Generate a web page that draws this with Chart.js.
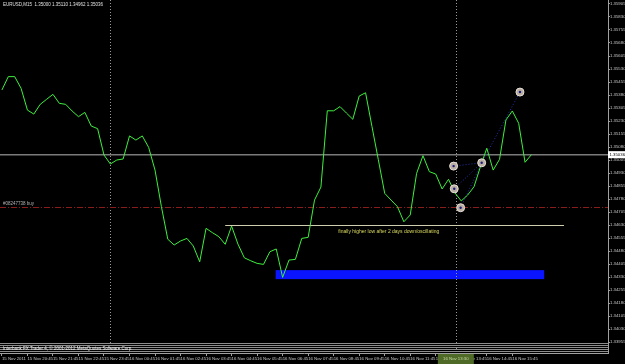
<!DOCTYPE html>
<html lang="en">
<head>
<meta charset="UTF-8">
<title>EURUSD,M15</title>
<script src="https://cdn.jsdelivr.net/npm/chart.js"></script>
<style>
    body { margin: 0; background: #000; }
    #wrap { width: 625px; height: 364px; }
</style>
</head>
<body>
<div id="wrap"><canvas id="myChart" width="625" height="364"></canvas></div>
<script>
// closes of EURUSD M15, one per bar (bar 0 = 15 Nov 19:45)
const closes = [
    1.35409, 1.35486, 1.35486, 1.35419, 1.35293, 1.35270, 1.35326, 1.35355, 1.35384, 1.35332,
    1.35326, 1.35288, 1.35255, 1.35280, 1.35201, 1.35186, 1.35034, 1.34982, 1.35005, 1.35011,
    1.35144, 1.35120, 1.35144, 1.35078, 1.34947, 1.34736, 1.34548, 1.34515, 1.34538, 1.34553,
    1.34509, 1.34418, 1.34611, 1.34586, 1.34563, 1.34519, 1.34624, 1.34520, 1.34441, 1.34424,
    1.34409, 1.34403, 1.34476, 1.34492, 1.34328, 1.34428, 1.34432, 1.34553, 1.34559, 1.34774,
    1.34849, 1.35289, 1.35289, 1.35313, 1.35276, 1.35240, 1.35374, 1.35393, 1.35199, 1.35007,
    1.34813, 1.34774, 1.34736, 1.34649, 1.34688, 1.34928, 1.35030, 1.34938, 1.34924, 1.34838,
    1.34894, 1.34816, 1.34769, 1.34803, 1.34851, 1.34966, 1.35073, 1.34947, 1.35009, 1.35236,
    1.35288, 1.35217, 1.34992, 1.35036
];

// one label every 4 bars (1 hour)
const timeLabels = [
    '15 Nov 2011', '15 Nov 20:45', '15 Nov 21:45', '15 Nov 22:45', '15 Nov 23:45',
    '16 Nov 00:45', '16 Nov 01:45', '16 Nov 02:45', '16 Nov 03:45', '16 Nov 04:45',
    '16 Nov 05:45', '16 Nov 06:45', '16 Nov 07:45', '16 Nov 08:45', '16 Nov 09:45',
    '16 Nov 10:45', '16 Nov 11:45', '16 Nov 12:45', '16 Nov 13:45', '16 Nov 14:45',
    '16 Nov 15:45'
];

const priceLabels = [
    1.35905, 1.35830, 1.35755, 1.35680, 1.35605, 1.35530, 1.35455, 1.35380, 1.35305,
    1.35230, 1.35155, 1.35080, 1.35005, 1.34930, 1.34855, 1.34780, 1.34705, 1.34630,
    1.34555, 1.34480, 1.34405, 1.34330, 1.34255, 1.34180, 1.34105, 1.34030, 1.33955
];

const header = 'EURUSD,M15  1.35000 1.35110 1.34962 1.35036';
const bidPrice = 1.35036;
const orderPrice = 1.34734;
const orderLabel = '#08247738 buy';
const supportLine = { from: 35.0, to: 88.1, price: 1.34630 };
const zoneBox = { from: 42.9, to: 85.0, top: 1.34370, bottom: 1.34318 };
const note = { x: 52.7, price: 1.34592, text: 'finally higher low after 2 days down/oscillating' };
const separators = [16.95, 71.15];
const crosshairLabel = '16 Nov 13:30';

// wave markers and the dotted links between them
const waveX = [70.8, 75.2, 70.9, 71.9, 81.2];
const waveY = [1.34970, 1.34989, 1.34839, 1.34730, 1.35397];
const waveLinks = [[3, 1], [1, 4], [0, 1], [2, 1]];

const tiny = "'Liberation Sans Narrow', 'Liberation Sans', sans-serif";

const overlay = {
    id: 'overlay',
    beforeDraw(chart) {
        const c = chart.ctx;
        c.save();
        c.fillStyle = '#000';
        c.fillRect(0, 0, chart.width, chart.height);
        c.restore();
    },
    beforeDatasetsDraw(chart) {
        const c = chart.ctx, x = chart.scales.x, y = chart.scales.y, a = chart.chartArea;
        c.save();
        // blue zone
        c.fillStyle = '#0a14ff';
        const zx1 = x.getPixelForValue(zoneBox.from), zx2 = x.getPixelForValue(zoneBox.to);
        const zy1 = y.getPixelForValue(zoneBox.top), zy2 = y.getPixelForValue(zoneBox.bottom);
        c.fillRect(zx1, zy1, zx2 - zx1, zy2 - zy1);
        // day separator / crosshair
        c.strokeStyle = '#9a9a9a';
        c.lineWidth = 1;
        c.setLineDash([1, 2]);
        separators.forEach(s => {
            const px = Math.round(x.getPixelForValue(s)) + 0.5;
            c.beginPath(); c.moveTo(px, a.top); c.lineTo(px, a.bottom); c.stroke();
        });
        // order line
        c.strokeStyle = '#8b1c1c';
        c.setLineDash([6, 2, 1, 2]);
        let py = Math.round(y.getPixelForValue(orderPrice)) + 0.5;
        c.beginPath(); c.moveTo(a.left, py); c.lineTo(a.right, py); c.stroke();
        // bid line
        c.setLineDash([]);
        c.strokeStyle = '#7a7a7a';
        c.lineWidth = 1.5;
        py = y.getPixelForValue(bidPrice);
        c.beginPath(); c.moveTo(a.left, py); c.lineTo(a.right, py); c.stroke();
        // support line
        c.strokeStyle = '#cfcfb0';
        c.lineWidth = 1;
        py = Math.round(y.getPixelForValue(supportLine.price)) + 0.5;
        c.beginPath();
        c.moveTo(x.getPixelForValue(supportLine.from), py);
        c.lineTo(x.getPixelForValue(supportLine.to), py);
        c.stroke();
        // texts
        c.font = '4.5px ' + tiny;
        c.textBaseline = 'middle';
        c.fillStyle = '#b0b0b0';
        c.fillText(orderLabel, 3, y.getPixelForValue(orderPrice) - 3);
        c.font = '5px ' + tiny;
        c.fillStyle = '#d8d860';
        c.fillText(note.text, x.getPixelForValue(note.x), y.getPixelForValue(note.price));
        c.font = '4.5px ' + tiny;
        c.fillStyle = '#e0e0e0';
        c.fillText(header, 3, 5);
        c.restore();
    },
    afterDraw(chart) {
        const c = chart.ctx, x = chart.scales.x, y = chart.scales.y, a = chart.chartArea;
        c.save();
        // wave marker centers
        c.fillStyle = '#1a1a80';
        waveX.forEach((wx, k) => {
            c.beginPath();
            c.arc(x.getPixelForValue(wx), y.getPixelForValue(waveY[k]), 1.2, 0, Math.PI * 2);
            c.fill();
        });
        // bottom stripes and copyright
        c.strokeStyle = '#8c8c8c';
        c.lineWidth = 1;
        [343.5, 345.5, 347.5, 349.5, 351.5].forEach(sy => {
            c.beginPath(); c.moveTo(a.left, sy); c.lineTo(a.right, sy); c.stroke();
        });
        c.font = '4.5px ' + tiny;
        c.textBaseline = 'middle';
        c.fillStyle = '#f0f0f0';
        c.fillText('Interbank FX Trader 4, © 2001-2012 MetaQuotes Software Corp.', 3, 349);
        // current price box
        const by = y.getPixelForValue(bidPrice);
        c.fillStyle = '#ffffff';
        c.fillRect(a.right, by - 3.5, 17, 7);
        c.fillStyle = '#000';
        c.font = '4.3px ' + tiny;
        c.fillText(bidPrice.toFixed(5), a.right + 1.5, by);
        // crosshair time box
        const cx = x.getPixelForValue(separators[1]);
        c.fillStyle = '#4f6a26';
        c.fillRect(cx - 18, a.bottom + 1, 36, 10);
        c.fillStyle = '#c8d8a8';
        c.textAlign = 'center';
        c.fillText(crosshairLabel, cx, a.bottom + 6);
        c.restore();
    }
};

const ctx = document.getElementById('myChart').getContext('2d');
const myChart = new Chart(ctx, {
    type: 'line',
    data: {
        datasets: [{
            label: 'EURUSD',
            data: closes.map((v, i) => ({ x: i, y: v })),
            borderColor: '#3cf03c',
            borderWidth: 1,
            pointRadius: 0,
            tension: 0,
            order: 1
        },
        ...waveLinks.map(([p, q]) => ({
            type: 'scatter',
            data: [{ x: waveX[p], y: waveY[p] }, { x: waveX[q], y: waveY[q] }],
            showLine: true,
            borderColor: '#2830b0',
            borderWidth: 1,
            borderDash: [1, 2],
            pointRadius: 0,
            order: 2
        })),
        {
            type: 'scatter',
            data: waveX.map((wx, k) => ({ x: wx, y: waveY[k] })),
            pointRadius: 4,
            backgroundColor: '#b9aea2',
            borderColor: '#e6ded6',
            borderWidth: 1,
            order: 0
        }]
    },
    options: {
        responsive: false,
        animation: false,
        layout: { padding: 0, autoPadding: false },
        plugins: { legend: { display: false }, tooltip: { enabled: false } },
        scales: {
            x: {
                type: 'linear',
                min: -0.3,
                max: 95,
                afterBuildTicks: s => { s.ticks = timeLabels.map((t, k) => ({ value: k * 4 })); },
                afterFit: s => { s.height = 11; s.paddingLeft = 0; s.paddingRight = 0; },
                ticks: {
                    align: 'start',
                    padding: 0,
                    autoSkip: false,
                    maxRotation: 0,
                    color: '#c8c8c8',
                    font: { size: 4.3, family: tiny },
                    callback: v => timeLabels[Math.round(v / 4)]
                },
                grid: { drawOnChartArea: false, color: '#a0a0a0', tickLength: 3 },
                border: { color: '#a0a0a0' }
            },
            y: {
                position: 'right',
                min: 1.33892,
                max: 1.35928,
                afterBuildTicks: s => { s.ticks = priceLabels.map(v => ({ value: v })); },
                afterFit: s => { s.width = 17; s.paddingTop = 0; s.paddingBottom = 0; },
                ticks: {
                    padding: 0,
                    autoSkip: false,
                    color: '#c8c8c8',
                    font: { size: 4.3, family: tiny },
                    callback: v => v.toFixed(5)
                },
                grid: { drawOnChartArea: false, color: '#a0a0a0', tickLength: 2 },
                border: { color: '#a0a0a0' }
            }
        }
    },
    plugins: [overlay]
});
</script>
</body>
</html>
